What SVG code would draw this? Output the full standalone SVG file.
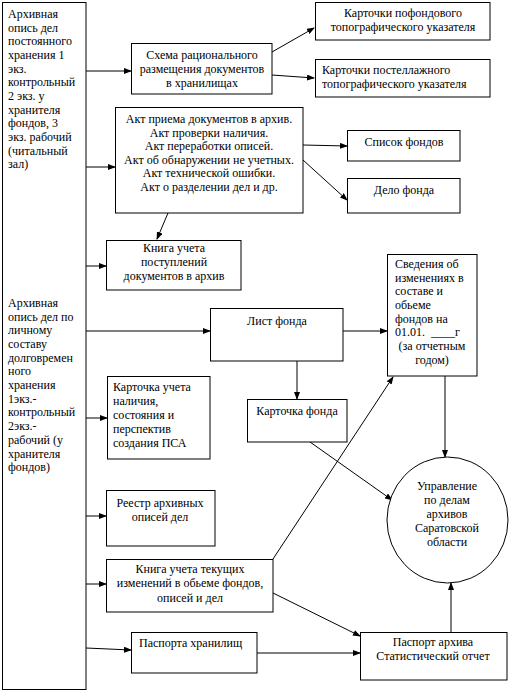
<svg xmlns="http://www.w3.org/2000/svg" width="509" height="694" viewBox="0 0 509 694">
<style>
.b{fill:#fff;stroke:#000;stroke-width:1}
.t{font-size:12px;fill:#000}
.c{text-anchor:middle}
.l{stroke:#000;stroke-width:1;fill:none}
</style>
<defs>
<marker id="a" markerWidth="8" markerHeight="6" refX="7" refY="3" orient="auto" markerUnits="userSpaceOnUse">
<path d="M0,0 L8,3 L0,6 z" fill="#000"/>
</marker>
</defs>
<rect x="0" y="0" width="509" height="694" fill="#fff"/>
<g id="connectors">
<line class="l" x1="86" y1="71" x2="131" y2="71" marker-end="url(#a)"/>
<line class="l" x1="272" y1="52" x2="314" y2="28" marker-end="url(#a)"/>
<line class="l" x1="272" y1="75" x2="314" y2="78" marker-end="url(#a)"/>
<line class="l" x1="86" y1="167" x2="115" y2="167" marker-end="url(#a)"/>
<line class="l" x1="303" y1="145" x2="347" y2="146" marker-end="url(#a)"/>
<line class="l" x1="303" y1="160" x2="347" y2="200" marker-end="url(#a)"/>
<line class="l" x1="168" y1="213" x2="157" y2="239" marker-end="url(#a)"/>
<line class="l" x1="86" y1="266" x2="106" y2="266" marker-end="url(#a)"/>
<line class="l" x1="86" y1="331" x2="210" y2="331" marker-end="url(#a)"/>
<line class="l" x1="343" y1="331" x2="387" y2="331" marker-end="url(#a)"/>
<line class="l" x1="297" y1="361" x2="297" y2="399" marker-end="url(#a)"/>
<line class="l" x1="86" y1="418" x2="107" y2="418" marker-end="url(#a)"/>
<line class="l" x1="445" y1="376" x2="445" y2="457" marker-end="url(#a)"/>
<line class="l" x1="310" y1="442" x2="392" y2="500" marker-end="url(#a)"/>
<line class="l" x1="86" y1="516" x2="106" y2="516" marker-end="url(#a)"/>
<line class="l" x1="273" y1="559" x2="393" y2="377" marker-end="url(#a)"/>
<line class="l" x1="86" y1="584" x2="106" y2="584" marker-end="url(#a)"/>
<line class="l" x1="273" y1="593" x2="360" y2="636" marker-end="url(#a)"/>
<line class="l" x1="86" y1="648" x2="131" y2="650" marker-end="url(#a)"/>
<line class="l" x1="257" y1="653" x2="360" y2="653" marker-end="url(#a)"/>
<line class="l" x1="451" y1="632" x2="451" y2="583" marker-end="url(#a)"/>
</g>
<g font-family="'Liberation Serif', 'Times New Roman', 'DejaVu Serif', serif">
<g id="left">
<rect class="b" x="2.5" y="2.5" width="83.5" height="687"/>
<text class="t" x="8" y="18">Архивная</text>
<text class="t" x="8" y="32">опись дел</text>
<text class="t" x="8" y="45">постоянного</text>
<text class="t" x="8" y="59">хранения 1</text>
<text class="t" x="8" y="73">экз.</text>
<text class="t" x="8" y="86">контрольный</text>
<text class="t" x="8" y="100">2 экз. у</text>
<text class="t" x="8" y="114">хранителя</text>
<text class="t" x="8" y="127">фондов, 3</text>
<text class="t" x="8" y="141">экз. рабочий</text>
<text class="t" x="8" y="155">(читальный</text>
<text class="t" x="8" y="168">зал)</text>
<text class="t" x="8" y="307">Архивная</text>
<text class="t" x="8" y="321">опись дел по</text>
<text class="t" x="8" y="334">личному</text>
<text class="t" x="8" y="348">составу</text>
<text class="t" x="8" y="362">долговремен</text>
<text class="t" x="8" y="375">ного</text>
<text class="t" x="8" y="389">хранения</text>
<text class="t" x="8" y="403">1экз.-</text>
<text class="t" x="8" y="416">контрольный</text>
<text class="t" x="8" y="430">2экз.-</text>
<text class="t" x="8" y="444">рабочий (у</text>
<text class="t" x="8" y="458">хранителя</text>
<text class="t" x="8" y="471">фондов)</text>
</g>
<g id="schema">
<rect class="b" x="131.5" y="43.5" width="140.5" height="50.5"/>
<text class="t c" x="202" y="59">Схема рационального</text>
<text class="t c" x="202" y="73">размещения документов</text>
<text class="t c" x="202" y="87">в хранилищах</text>
</g>
<g id="kartpofond">
<rect class="b" x="315.5" y="2.5" width="174.5" height="37.5"/>
<text class="t c" x="403" y="17">Карточки пофондового</text>
<text class="t c" x="403" y="31">топографического указателя</text>
</g>
<g id="kartpostel">
<rect class="b" x="315.5" y="59.5" width="174.5" height="37.5"/>
<text class="t" x="322" y="74">Карточки постеллажного</text>
<text class="t" x="322" y="88">топографического указателя</text>
</g>
<g id="akt">
<rect class="b" x="115.5" y="107.5" width="187.5" height="105.5"/>
<text class="t c" x="209" y="123">Акт приема документов в архив.</text>
<text class="t c" x="209" y="137">Акт проверки наличия.</text>
<text class="t c" x="209" y="150">Акт переработки описей.</text>
<text class="t c" x="209" y="164">Акт об обнаружении не учетных.</text>
<text class="t c" x="209" y="177">Акт технической ошибки.</text>
<text class="t c" x="209" y="191">Акт о разделении дел и др.</text>
</g>
<g id="spisok">
<rect class="b" x="347.5" y="130.5" width="112.5" height="30.5"/>
<text class="t c" x="404" y="146">Список фондов</text>
</g>
<g id="delo">
<rect class="b" x="347.5" y="178.5" width="112.5" height="34.5"/>
<text class="t c" x="404" y="194">Дело фонда</text>
</g>
<g id="kniga1">
<rect class="b" x="106.5" y="240.5" width="134.5" height="49.5"/>
<text class="t c" x="174" y="252">Книга учета</text>
<text class="t c" x="174" y="266">поступлений</text>
<text class="t c" x="174" y="280">документов в архив</text>
</g>
<g id="list">
<rect class="b" x="210.5" y="308.5" width="132.5" height="52.5"/>
<text class="t c" x="277" y="325">Лист фонда</text>
</g>
<g id="svedenia">
<rect class="b" x="387.5" y="254.5" width="89.5" height="121.5"/>
<text class="t" x="395" y="268">Сведения об</text>
<text class="t" x="395" y="282">изменениях в</text>
<text class="t" x="395" y="295">составе  и</text>
<text class="t" x="395" y="309">обьеме</text>
<text class="t" x="395" y="323">фондов на</text>
<text class="t" x="395" y="336" xml:space="preserve">01.01.  ____г</text>
<text class="t c" x="432" y="350">(за отчетным</text>
<text class="t c" x="432" y="364">годом)</text>
</g>
<g id="kartuch">
<rect class="b" x="107.5" y="376.5" width="102.5" height="82.5"/>
<text class="t" x="113" y="391">Карточка учета</text>
<text class="t" x="113" y="405">наличия,</text>
<text class="t" x="113" y="419">состояния и</text>
<text class="t" x="113" y="433">перспектив</text>
<text class="t" x="113" y="447">создания ПСА</text>
</g>
<g id="kartfond">
<rect class="b" x="247.5" y="399.5" width="99.5" height="42.5"/>
<text class="t c" x="297" y="415">Карточка фонда</text>
</g>
<g id="upravlenie">
<ellipse class="b" cx="447.5" cy="520" rx="60.5" ry="63"/>
<text class="t c" x="447" y="490">Управление</text>
<text class="t c" x="447" y="504">по делам</text>
<text class="t c" x="447" y="518">архивов</text>
<text class="t c" x="447" y="532">Саратовской</text>
<text class="t c" x="447" y="546">области</text>
</g>
<g id="reestr">
<rect class="b" x="106.5" y="490.5" width="108.5" height="55.5"/>
<text class="t c" x="160" y="507">Реестр архивных</text>
<text class="t c" x="160" y="521">описей дел</text>
</g>
<g id="kniga2">
<rect class="b" x="106.5" y="559.5" width="166.5" height="52.5"/>
<text class="t c" x="190" y="573">Книга учета текущих</text>
<text class="t c" x="190" y="587">изменений в обьеме фондов,</text>
<text class="t c" x="190" y="602">описей и дел</text>
</g>
<g id="pasporta">
<rect class="b" x="131.5" y="632.5" width="125.5" height="40.5"/>
<text class="t" x="139" y="647">Паспорта хранилищ</text>
</g>
<g id="pasport">
<rect class="b" x="360.5" y="632.5" width="146.5" height="47.5"/>
<text class="t c" x="433" y="646">Паспорт архива</text>
<text class="t c" x="433" y="660">Статистический отчет</text>
</g>
</g>
</svg>
